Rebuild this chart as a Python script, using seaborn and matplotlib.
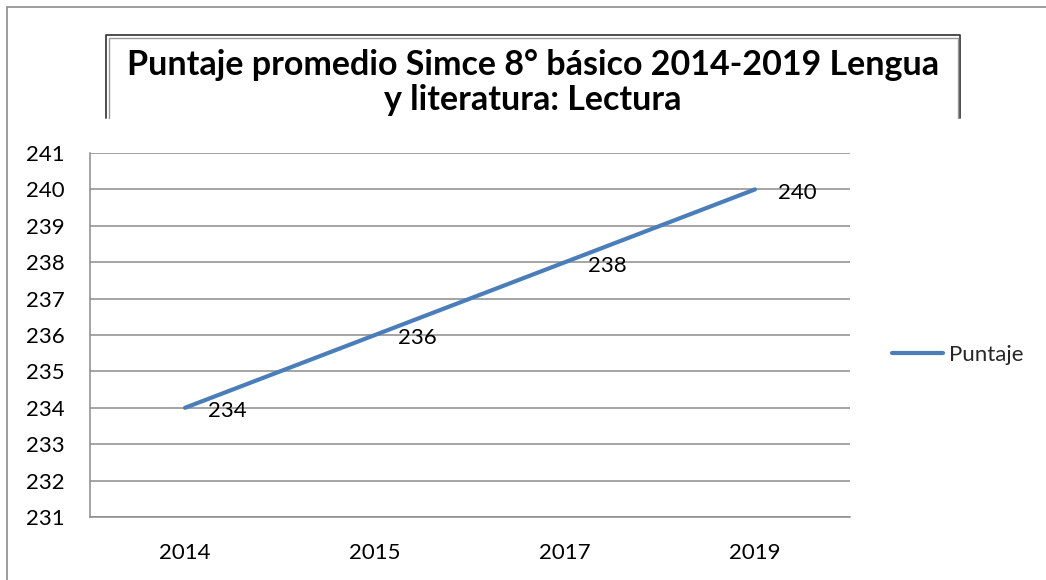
import matplotlib
matplotlib.use("Agg")
import matplotlib.pyplot as plt
from matplotlib.patches import Rectangle
from matplotlib.lines import Line2D
import pandas as pd
import seaborn as sns

years = ["2014", "2015", "2017", "2019"]
puntaje = [234, 236, 238, 240]
series_name = "Puntaje"
title = "Puntaje promedio Simce 8° básico 2014-2019 Lengua\ny literatura: Lectura"

df = pd.DataFrame({"Año": years, series_name: puntaje})

sns.set_theme(style="white")
plt.rcParams["font.family"] = ["Lato", "DejaVu Sans"]

W, H = 1046, 580
fig = plt.figure(figsize=(W / 100, H / 100), dpi=100)
fig.patch.set_facecolor("white")

# plot area in pixel coords: x 90..850, y 153..517
ax = fig.add_axes([90 / W, 1 - 517 / H, 760 / W, 364 / H])
blue = "#4A7EBB"
sns.lineplot(data=df, x="Año", y=series_name, ax=ax, color=blue, linewidth=3.0,
             sort=False, legend=False)

ax.set_xlim(-0.5, len(years) - 0.5)
ax.set_ylim(231, 241)
ax.set_yticks(range(231, 242))
ax.grid(axis="y", color="#8c8c8c", linewidth=1.1)
ax.set_axisbelow(True)
for s in ["top", "right"]:
    ax.spines[s].set_visible(False)
for s in ["left", "bottom"]:
    ax.spines[s].set_color("#8c8c8c")
    ax.spines[s].set_linewidth(1.1)
ax.tick_params(axis="y", length=0, pad=18.5, labelsize=16, labelcolor="black")
ax.tick_params(axis="x", length=0, pad=19, labelsize=16, labelcolor="black")
ax.set_xlabel("")
ax.set_ylabel("")

for i, v in enumerate(puntaje):
    ax.annotate(str(v), (i, v), xytext=(16.5, -2.5), textcoords="offset points",
                ha="left", va="center", fontsize=16, color="black")

# legend
ax.legend(handles=[Line2D([], [], color=blue, linewidth=3.0)],
          labels=[series_name], loc="center left",
          bbox_to_anchor=(892 / W, 1 - 355 / H), bbox_transform=fig.transFigure,
          frameon=False, fontsize=16, handlelength=2.3, handletextpad=0.27,
          borderpad=0, borderaxespad=0)

# outer chart border (cut at right and bottom)
fig.add_artist(Rectangle((7 / W, -0.1), 1.2, 1 - 7 / H + 0.1, transform=fig.transFigure,
                         fill=False, edgecolor="#8c8c8c", linewidth=1.2))

# title box with double border, open at bottom
x0, x1, y0, y1 = 106, 960, 35, 118
for off, col, lw in [(0, "#404040", 1.3), (2.5, "#9a9a9a", 1.0)]:
    xs = [(x0 + off) / W, (x0 + off) / W, (x1 - off) / W, (x1 - off) / W]
    ys = [1 - y1 / H, 1 - (y0 + off) / H, 1 - (y0 + off) / H, 1 - y1 / H]
    fig.add_artist(Line2D(xs, ys, transform=fig.transFigure, color=col, linewidth=lw))

fig.text(533 / W, 1 - 82.5 / H, title, ha="center", va="center", fontsize=24.5,
         fontweight="bold", linespacing=1.13, color="black")

fig.savefig("out.png", dpi=100, facecolor="white")
